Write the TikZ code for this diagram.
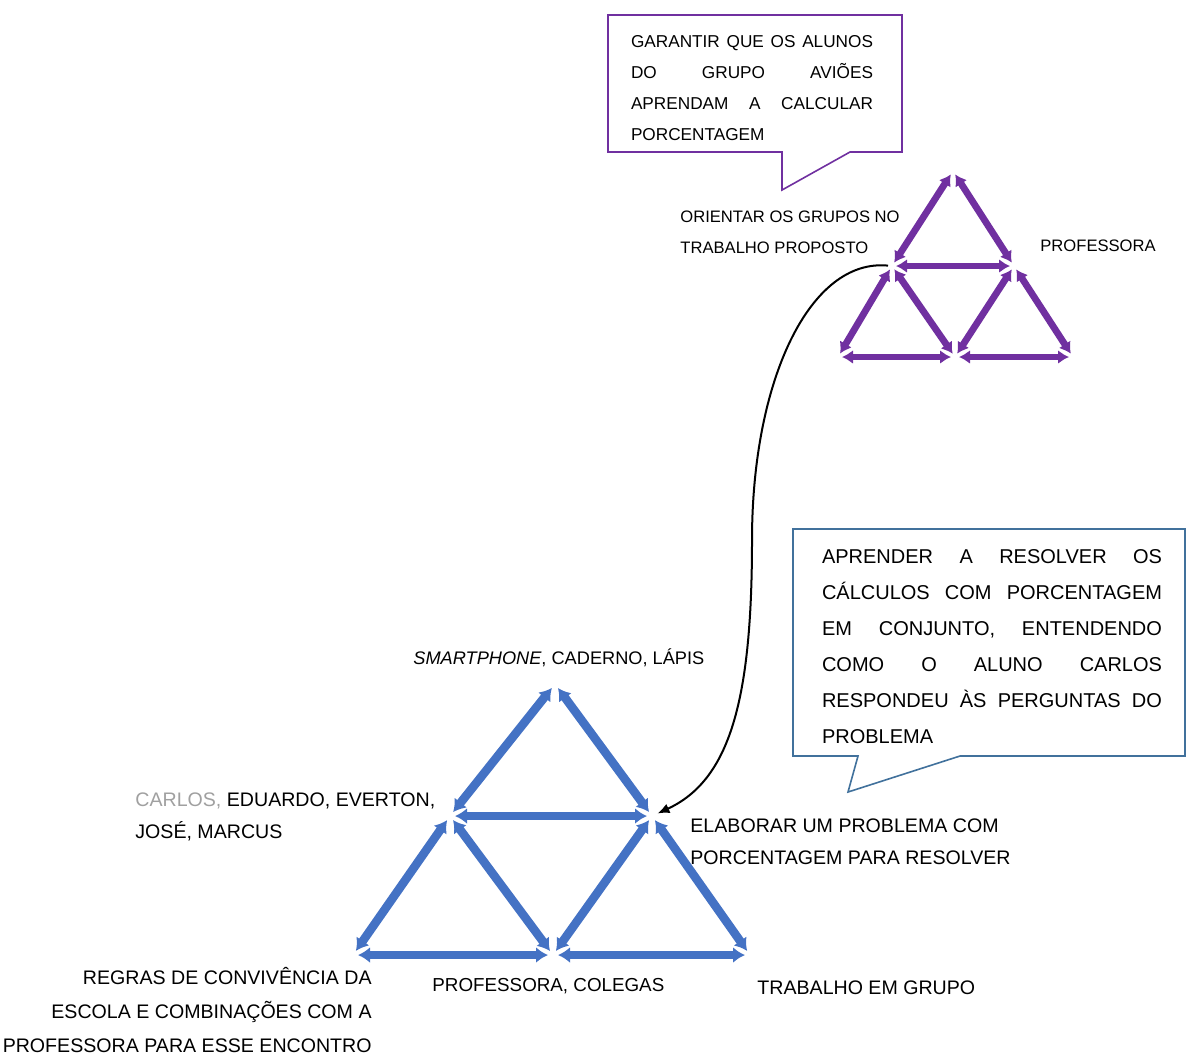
\documentclass[tikz,border=0pt]{standalone}
\usepackage{fontspec}
\setmainfont{Liberation Sans}
\usepackage{xcolor}
\usetikzlibrary{arrows.meta}
\definecolor{triblue}{HTML}{4472C4}
\definecolor{tripurple}{HTML}{7030A0}
\definecolor{boxblue}{HTML}{41719C}
\definecolor{namegray}{HTML}{A0A0A0}

\begin{document}
\begin{tikzpicture}[x=0.5pt,y=-0.5pt,
	bluearrow/.style={line width=4.3pt,triblue,{Latex[length=6pt,width=8pt]}-{Latex[length=6pt,width=8pt]},shorten <=2.5pt,shorten >=2.5pt},
	purplearrow/.style={line width=3.4pt,tripurple,{Latex[length=5.5pt,width=7pt]}-{Latex[length=5.5pt,width=7pt]},shorten <=2pt,shorten >=2pt},
	lbl/.style={inner sep=0pt,font=\fontsize{9.8}{16}\selectfont},
	smalllbl/.style={inner sep=0pt,font=\fontsize{8.3}{15.5}\selectfont}]
		\useasboundingbox (0,0) rectangle (1187,1057);
		% purple triangle (top right)
		\coordinate (pT) at (953,171);
		\coordinate (pL) at (892,266);
		\coordinate (pR) at (1014,266);
		\coordinate (pBL) at (838,357);
		\coordinate (pBM) at (955,357);
		\coordinate (pBR) at (1073,357);
		\foreach \a/\b in {pT/pL,pT/pR,pL/pR,pL/pBL,pL/pBM,pR/pBM,pR/pBR,pBL/pBM,pBM/pBR}
			\draw[purplearrow] (\a) -- (\b);
		% blue triangle (bottom left)
		\coordinate (bT) at (555,684);
		\coordinate (bL) at (450,816);
		\coordinate (bR) at (652,816);
		\coordinate (bBL) at (353,955);
		\coordinate (bBM) at (553,955);
		\coordinate (bBR) at (750,955);
		\foreach \a/\b in {bT/bL,bT/bR,bL/bR,bL/bBL,bL/bBM,bR/bBM,bR/bBR,bBL/bBM,bBM/bBR}
			\draw[bluearrow] (\a) -- (\b);
		% link between the two systems
		\draw[line width=1pt,-{Latex[length=6pt,width=5pt]},shorten <=2pt,shorten >=3pt] (pL) .. controls (810,258) and (752,380) .. (752,540) .. controls (752,700) and (730,780) .. (bR);
		% callouts
		\draw[tripurple,line width=0.8pt] (608,15) -- (902,15) -- (902,152) -- (850,152) -- (782,190) -- (782,152) -- (608,152) -- cycle;
		\node[inner sep=0pt,text width=121pt,align=justify,font=\fontsize{8.6}{15.5}\selectfont] (callA) at (752,88) {GARANTIR QUE OS ALUNOS\linebreak DO GRUPO AVIÕES\linebreak APRENDAM A CALCULAR\linebreak PORCENTAGEM};
		\draw[boxblue,line width=0.8pt] (793,529) -- (1185,529) -- (1185,756) -- (960,756) -- (848,792) -- (858,756) -- (793,756) -- cycle;
		\node[inner sep=0pt,text width=170pt,align=justify,font=\fontsize{10}{18}\selectfont] (callB) at (992,647) {APRENDER A RESOLVER OS\linebreak CÁLCULOS COM PORCENTAGEM\linebreak EM CONJUNTO, ENTENDENDO\linebreak COMO O ALUNO CARLOS\linebreak RESPONDEU ÀS PERGUNTAS DO\linebreak PROBLEMA};
		% labels of the purple system
		\node[smalllbl,anchor=west,align=left] (orient) at (680,232) {ORIENTAR OS GRUPOS NO\\TRABALHO PROPOSTO};
		\node[smalllbl,anchor=west] (prof) at (1040,246) {PROFESSORA};
		% labels of the blue system
		\node[lbl,anchor=west,font=\fontsize{9.1}{16}\selectfont] (tools) at (413,658) {\textit{SMARTPHONE}, CADERNO, LÁPIS};
		\node[lbl,anchor=west,align=left] (subj) at (135,817) {\textcolor{namegray}{CARLOS,} EDUARDO, EVERTON,\\JOSÉ, MARCUS};
		\node[lbl,anchor=west,align=left] (obj) at (690,842) {ELABORAR UM PROBLEMA COM\\PORCENTAGEM PARA RESOLVER};
		\node[lbl,anchor=east,align=right,font=\fontsize{9.8}{17}\selectfont] (rules) at (372,1010) {REGRAS DE CONVIVÊNCIA DA\\ESCOLA E COMBINAÇÕES COM A\\PROFESSORA PARA ESSE ENCONTRO};
		\node[lbl,anchor=west,font=\fontsize{9.4}{16}\selectfont] (comm) at (432,986) {PROFESSORA, COLEGAS};
		\node[lbl,anchor=west] (div) at (757,988) {TRABALHO EM GRUPO};
	\end{tikzpicture}
\end{document}
